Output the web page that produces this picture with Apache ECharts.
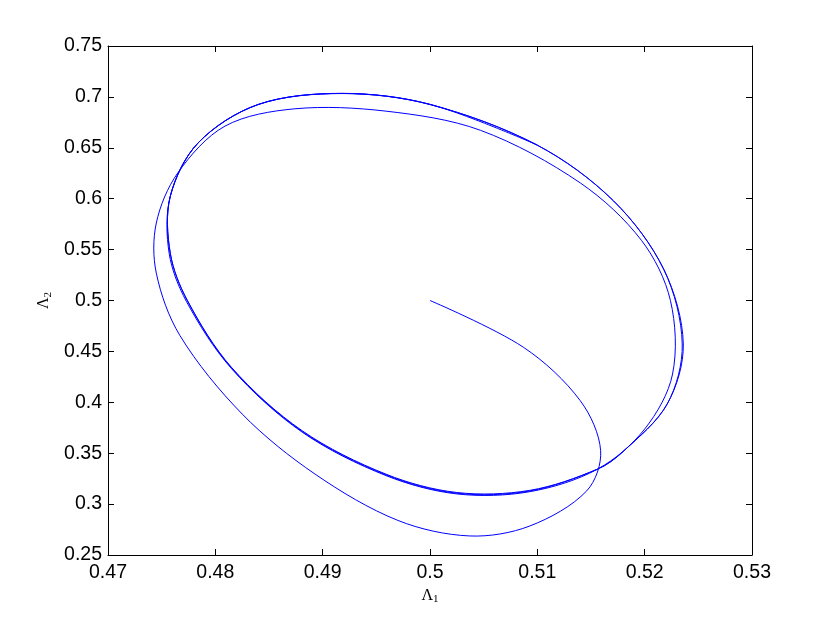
<!DOCTYPE html>
<html>
<head>
<meta charset="utf-8">
<script src="https://cdn.jsdelivr.net/npm/echarts@6/dist/echarts.min.js"></script>
<style>
  html, body { margin: 0; padding: 0; background: #fff; }
  #chart { width: 830px; height: 625px; }
</style>
</head>
<body>
<div id="chart"></div>
<script>
  // trajectory, [Lambda1, Lambda2]
  // first turn: from the centre, round the big lower/left arc, inner top, inner right
  const transient = [
    [0.5, 0.5], [0.5087, 0.4541], [0.514, 0.4016], [0.5159, 0.3524], [0.5146, 0.313],
    [0.5093, 0.2785], [0.5037, 0.2687], [0.4970, 0.2840], [0.4893, 0.3294], [0.4825, 0.3885],
    [0.4767, 0.4656], [0.4745, 0.5269], [0.4745, 0.5761], [0.4765, 0.6253], [0.4809, 0.6713],
    [0.4874, 0.6883], [0.4959, 0.686], [0.5047, 0.6672], [0.514, 0.6155], [0.5197, 0.5591],
    [0.5224, 0.5], [0.5226, 0.4278], [0.5200, 0.3737], [0.5156, 0.3343]
  ]
  // second turn, just outside the limit cycle at the bottom
  const loop1 = [
    [0.5093, 0.3122], [0.5025, 0.3100], [0.4959, 0.3280], [0.4881, 0.3706], [0.4815, 0.4332],
    [0.4773, 0.4992], [0.4757, 0.5462], [0.4758, 0.6022], [0.4784, 0.6548], [0.484, 0.6925],
    [0.4918, 0.7033], [0.5, 0.6925], [0.51, 0.6525], [0.5171, 0.5978], [0.5218, 0.5301],
    [0.5235, 0.4573], [0.5221, 0.3983], [0.5180, 0.3517], [0.5156, 0.3343]
  ]
  // third turn
  const loop2 = [
    [0.5093, 0.3129], [0.5025, 0.3107], [0.4959, 0.3287], [0.4881, 0.3713], [0.4815, 0.4338],
    [0.4774, 0.4996], [0.4758, 0.5464], [0.4758, 0.6023], [0.4784, 0.6549], [0.484, 0.6926],
    [0.4918, 0.7034], [0.5, 0.6926], [0.51, 0.6526], [0.5171, 0.5979], [0.5218, 0.5302],
    [0.5236, 0.4573], [0.5221, 0.3983], [0.5180, 0.3517], [0.5156, 0.3343]
  ]
  // last turn, on the limit cycle
  const loop3 = [
    [0.5093, 0.3135], [0.5025, 0.3114], [0.4959, 0.3294], [0.4881, 0.372], [0.4815, 0.4344],
    [0.4774, 0.5], [0.4758, 0.5466], [0.4758, 0.6024], [0.4784, 0.6549], [0.484, 0.6926],
    [0.4918, 0.7035], [0.5, 0.6927], [0.51, 0.6527]
  ]
  const xTicks = { min: 0.47, max: 0.53, interval: 0.01 }
  const yTicks = { min: 0.25, max: 0.75, interval: 0.05 }
  const trajectory = transient.concat(loop1, loop2, loop3)

  const chart = echarts.init(document.getElementById('chart'))
  const font = 'Liberation Sans, Arial, Helvetica, sans-serif'
  const axisCommon = {
    type: 'value',
    splitLine: { show: false },
    axisLine: { show: true, onZero: false, lineStyle: { color: '#000', width: 1 } },
    axisTick: { show: true, inside: true, length: 6, lineStyle: { color: '#000' } },
    axisLabel: { color: '#000', fontSize: 19.5, fontFamily: font }
  }
  const nameRich = {
    a: { fontFamily: 'Liberation Serif, DejaVu Serif, serif', fontSize: 16, color: '#000' },
    b: { fontFamily: 'Liberation Serif, DejaVu Serif, serif', fontSize: 11, color: '#000', padding: [7, 0, 0, 0] }
  }

  chart.setOption({
    animation: false,
    backgroundColor: '#fff',
    grid: { left: 108, right: 78, top: 46, bottom: 70 },
    xAxis: [
      Object.assign({}, axisCommon, xTicks, {
        position: 'bottom',
        name: '{a|Λ}{b|1}',
        nameLocation: 'middle',
        nameGap: 26,
        nameTextStyle: { rich: nameRich },
        axisLabel: Object.assign({}, axisCommon.axisLabel, { margin: 8 })
      }),
      Object.assign({}, axisCommon, xTicks, {
        position: 'top',
        axisLabel: { show: false }
      })
    ],
    yAxis: [
      Object.assign({}, axisCommon, yTicks, {
        position: 'left',
        name: '{a|Λ}{b|2}',
        nameLocation: 'middle',
        nameGap: 50,
        nameRotate: 90,
        nameTextStyle: { rich: nameRich },
        axisLabel: Object.assign({}, axisCommon.axisLabel, { margin: 6 })
      }),
      Object.assign({}, axisCommon, yTicks, {
        position: 'right',
        axisLabel: { show: false }
      })
    ],
    series: [
      {
        // one smooth path through all the points, placed with the axes' scales
        type: 'custom',
        coordinateSystem: 'cartesian2d',
        xAxisIndex: 0,
        yAxisIndex: 0,
        data: trajectory,
        encode: { x: 0, y: 1 },
        renderItem: function (params, api) {
          if (params.dataIndex !== 0) return null
          const pts = trajectory.map(function (p) { return api.coord(p) })
          return {
            type: 'polyline',
            shape: { points: pts, smooth: 0.33 },
            style: { fill: null, stroke: '#0000ff', lineWidth: 1 }
          }
        }
      }
    ]
  })
</script>
</body>
</html>
